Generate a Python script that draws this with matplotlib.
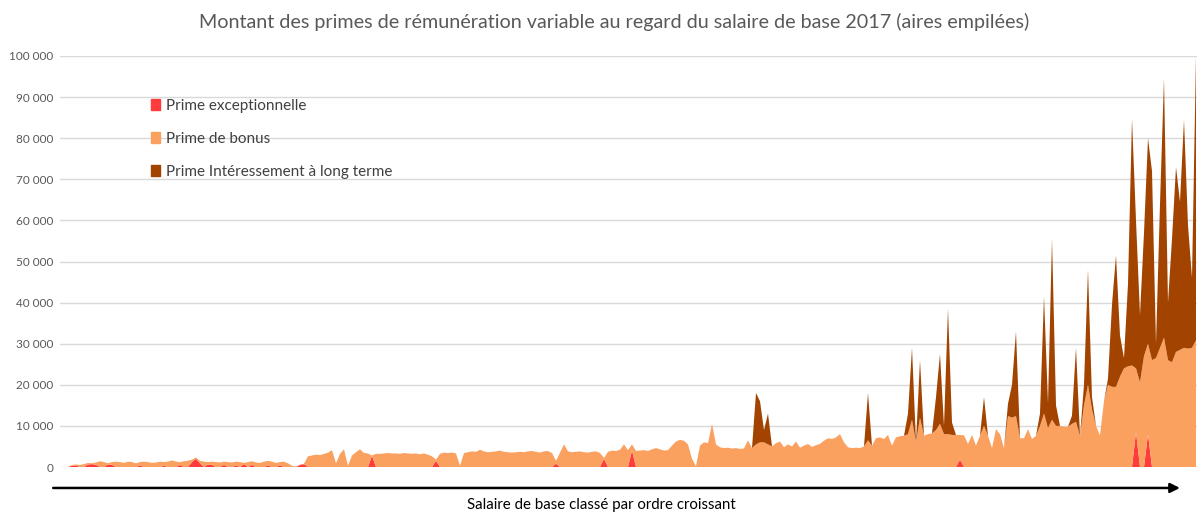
import numpy as np
import matplotlib
matplotlib.use("Agg")
import matplotlib.pyplot as plt
from matplotlib.patches import Patch
from matplotlib.ticker import FuncFormatter

plt.rcParams['font.family'] = ['Lato', 'DejaVu Sans']

# salariés classés par salaire de base croissant (un point par rang)
n_points = 283

# Prime de bonus (euros)
bonus = [
    0, 200, 200, 500, 700, 400, 200, 600, 1400, 1200,
    300, 700, 1300, 1200, 1000, 1300, 1200, 900, 800, 1300,
    1200, 1000, 1100, 1300, 900, 1300, 1600, 1300, 700, 1400,
    1500, 600, 300, 600, 1300, 600, 800, 1200, 1100, 800,
    1200, 1100, 900, 1200, 300, 1200, 900, 1100, 1000, 1300,
    1100, 1300, 1000, 800, 1300, 900, 300, 100, 100, 100,
    2600, 2800, 3000, 2900, 3200, 3500, 4100, 900, 3200, 4300,
    300, 2800, 3600, 4300, 3400, 3300, 100, 3200, 3200, 3300,
    3400, 3300, 3300, 3200, 3400, 3300, 3200, 3300, 3100, 3300,
    3000, 2600, 300, 3200, 3500, 3400, 3500, 3300, 300, 3400,
    3600, 3800, 3700, 4200, 3800, 3600, 3700, 3800, 4000, 3700,
    3600, 3500, 3600, 3700, 3600, 3800, 3900, 3700, 3500, 3800,
    3900, 3400, 700, 3500, 5500, 3800, 3600, 3700, 3800, 3600,
    3500, 3700, 3800, 3400, 200, 3700, 4000, 3900, 4200, 5500,
    4100, 1500, 3900, 4000, 4100, 3900, 4300, 4600, 4300, 4000,
    4100, 5200, 6200, 6600, 6400, 5500, 2000, 200, 5200, 6000,
    5800, 10500, 5500, 4800, 4600, 4700, 4500, 4600, 4400, 4500,
    6500, 4600, 5500, 6000, 6000, 5500, 5000, 5800, 6200, 4800,
    5500, 5000, 6200, 4700, 5200, 5600, 4900, 5300, 5600, 6400,
    7000, 6800, 7200, 8000, 6000, 4800, 4600, 4700, 4600, 5000,
    6500, 5200, 7000, 7200, 6800, 7800, 5200, 7200, 7500, 7600,
    8000, 11500, 6000, 12000, 7600, 8000, 8200, 9000, 10500, 8000,
    8000, 7800, 7800, 6000, 7700, 5600, 7800, 5200, 7600, 10000,
    7600, 4600, 9200, 8000, 4600, 12400, 12000, 12400, 7000, 7000,
    9200, 6800, 7600, 10000, 13000, 9500, 11500, 10000, 10000, 9800,
    9800, 10500, 11000, 7500, 15000, 20000, 14000, 10000, 7700, 16000,
    20000, 19500, 19500, 22000, 24000, 24500, 24700, 15500, 20600, 27000,
    22000, 26000, 26500, 29000, 31500, 26000, 25500, 28000, 28500, 29000,
    28800, 29000, 30800,
]

# Prime exceptionnelle : rangs concernés et montants
excep_rank = [1, 2, 5, 6, 7, 10, 11, 18, 24, 28, 31, 32, 33, 35, 36, 39, 42, 44,
              46, 50, 53, 58, 59, 76, 92, 122, 134, 141, 223, 267, 270]
excep_amount = [300, 400, 600, 700, 500, 600, 500, 400, 300, 500, 1200, 2000, 900,
                600, 500, 500, 400, 700, 500, 400, 400, 500, 700, 2700, 1500, 800,
                2000, 4000, 1800, 8500, 8000]

# Prime intéressement à long terme : rangs concernés et montants
lt_rank = [172, 173, 174, 175, 200, 210, 211, 213, 217, 218, 219, 220, 221, 229,
           235, 236, 237, 243, 244, 245, 246, 247, 251, 252, 254, 255, 256, 260,
           261, 262, 263, 264, 265, 266, 267, 268, 269, 270, 271, 272, 273, 274,
           275, 276, 277, 278, 279, 280, 281, 282]
lt_amount = [12500, 10000, 3000, 7500, 11500, 5000, 17500, 14000, 8000, 17000,
             2000, 30500, 3000, 7000, 3000, 8000, 20600, 3000, 28500, 6000,
             44000, 5000, 2000, 18000, 5000, 28000, 3000, 1500, 20000, 32000,
             10000, 2500, 20000, 60000, 36000, 16400, 30000, 50000, 46000, 3500,
             35000, 63000, 14000, 30000, 45000, 36000, 55500, 30000, 17000, 69200]

rank = np.arange(n_points)
excep = np.zeros(n_points)
excep[excep_rank] = excep_amount
lt = np.zeros(n_points)
lt[lt_rank] = lt_amount

labels = ['Prime exceptionnelle', 'Prime de bonus', 'Prime Intéressement à long terme']
colors = ['#FF3B3B', '#FBA15F', '#A24300']

fig = plt.figure(figsize=(11.97, 5.12), dpi=100)
ax = fig.add_axes([60 / 1197, 45 / 512, 1137 / 1197, 411 / 512])

ax.stackplot(rank, excep, np.array(bonus), lt, colors=colors, linewidth=0)

ax.set_xlim(-2, 282.25)
ax.set_ylim(0, 100000)
ax.set_yticks(np.arange(0, 100001, 10000))
ax.yaxis.set_major_formatter(FuncFormatter(lambda v, p: f"{int(v):,}".replace(",", " ")))
ax.tick_params(axis='y', length=0, pad=5, labelsize=8.5, labelcolor='#595959')
ax.set_xticks([])
ax.grid(axis='y', color='#D9D9D9', linewidth=1)
ax.set_axisbelow(True)
for s in ax.spines.values():
    s.set_visible(False)

handles = [Patch(color=c) for c in colors]
ax.legend(handles, labels, loc='upper left', bbox_to_anchor=(0.068, 0.93),
          frameon=False, fontsize=11, labelspacing=1.25, handlelength=0.6,
          handleheight=0.75, handletextpad=0.35, labelcolor='#404040')

# flèche de l'axe des abscisses
ax.annotate('', xy=(0.985, -0.051), xytext=(-0.006, -0.051),
            xycoords='axes fraction', textcoords='axes fraction',
            arrowprops=dict(arrowstyle='-|>', color='black', lw=1.8,
                            mutation_scale=14, shrinkA=0, shrinkB=0),
            annotation_clip=False)
fig.text(0.502, 0.014, 'Salaire de base classé par ordre croissant',
         ha='center', va='center', fontsize=10.8, color='black')

fig.text(0.513, 0.957,
         'Montant des primes de rémunération variable au regard du salaire de base 2017 (aires empilées)',
         ha='center', va='center', fontsize=14.2, color='#595959')

fig.savefig('out.png', dpi=100)
